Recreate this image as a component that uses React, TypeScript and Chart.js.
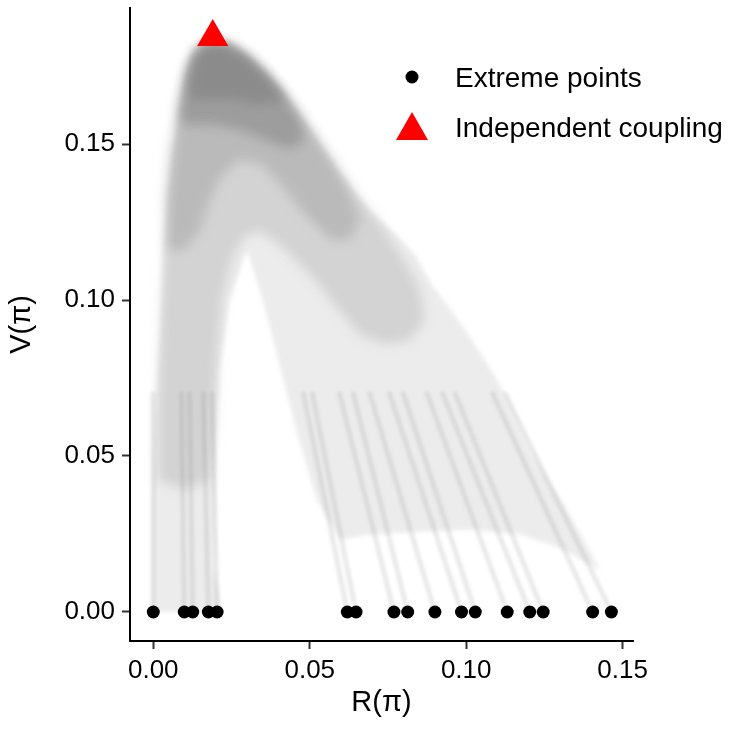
import React, { useEffect, useRef } from "react";
import { Chart, registerables } from "chart.js";

Chart.register(...registerables);

const FONT = '"Liberation Sans", Arial, Helvetica, sans-serif';

// axis ticks
const xTicks = [0, 0.05, 0.1, 0.15];
const yTicks = [0, 0.05, 0.1, 0.15];

// legend labels
const legendLabels = ["Extreme points", "Independent coupling"];

// extreme points (R, V)
const extremeR = [0.0, 0.0099, 0.0126, 0.0176, 0.0204, 0.062, 0.0648, 0.0769, 0.0813, 0.09, 0.0985, 0.1029, 0.1131, 0.1203, 0.1246, 0.1404, 0.1464];
const extremeV = [0, 0, 0, 0, 0, 0, 0, 0, 0, 0, 0, 0, 0, 0, 0, 0, 0];

// independent coupling
const indepR = [0.019];
const indepV = [0.1843];

// sampled-coupling cloud, outer envelope (light density)
const cloudOuterR = [-0.0003, -0.0003, -0.0002, 0.0005, 0.0021, 0.0031, 0.0047, 0.0076, 0.0101, 0.0124, 0.0159, 0.0197, 0.0239, 0.0283, 0.0325, 0.0373, 0.0437, 0.0501, 0.0565, 0.0629, 0.0699, 0.0779, 0.0836, 0.089, 0.0989, 0.1044, 0.1098, 0.1149, 0.1203, 0.1267, 0.1315, 0.1385, 0.1427, 0.1395, 0.1299, 0.1171, 0.1012, 0.0852, 0.0692, 0.0597, 0.0523, 0.0459, 0.0405, 0.035, 0.0299, 0.0245, 0.0213, 0.0197, 0.0194, 0.0219];
const cloudOuterV = [0.0, 0.0168, 0.036, 0.0584, 0.0905, 0.1152, 0.1363, 0.1578, 0.1722, 0.1796, 0.1834, 0.1844, 0.1831, 0.1802, 0.1764, 0.1716, 0.1642, 0.1552, 0.1456, 0.1366, 0.1283, 0.1206, 0.1145, 0.1049, 0.0914, 0.0831, 0.0745, 0.0639, 0.052, 0.0414, 0.0338, 0.0216, 0.0136, 0.0152, 0.0206, 0.0248, 0.0264, 0.0257, 0.0248, 0.0232, 0.036, 0.0575, 0.0786, 0.1001, 0.1161, 0.1001, 0.0786, 0.0466, 0.0145, 0.0];

// medium density region
const cloudMidR = [0.0012, 0.0015, 0.0025, 0.0037, 0.006, 0.0085, 0.0111, 0.014, 0.0181, 0.0239, 0.0293, 0.0357, 0.0437, 0.0517, 0.0596, 0.0676, 0.075, 0.0804, 0.0852, 0.0868, 0.082, 0.074, 0.066, 0.058, 0.0501, 0.0421, 0.0347, 0.0293, 0.0251, 0.0219, 0.0204, 0.0194, 0.0181, 0.0101];
const cloudMidV = [0.0424, 0.068, 0.0937, 0.1193, 0.1418, 0.161, 0.1738, 0.1802, 0.1828, 0.1821, 0.1789, 0.1732, 0.1642, 0.153, 0.1418, 0.1305, 0.1209, 0.1123, 0.1033, 0.0937, 0.0873, 0.0857, 0.0889, 0.0985, 0.1081, 0.1161, 0.1219, 0.1209, 0.1129, 0.1001, 0.0809, 0.0584, 0.0424, 0.0392];

// higher density region
const cloudHighR = [0.0037, 0.0053, 0.0079, 0.0104, 0.0136, 0.0181, 0.0239, 0.0293, 0.0357, 0.043, 0.0501, 0.0565, 0.0622, 0.0661, 0.0629, 0.0565, 0.0485, 0.0421, 0.0347, 0.0277, 0.0219, 0.0181, 0.0149, 0.0101, 0.0047];
const cloudHighV = [0.1321, 0.1482, 0.1626, 0.1738, 0.1802, 0.1828, 0.1821, 0.1789, 0.1732, 0.1648, 0.1552, 0.1456, 0.1354, 0.1257, 0.1193, 0.1193, 0.1273, 0.1354, 0.1434, 0.145, 0.1402, 0.1321, 0.1225, 0.1161, 0.1161];

// dense core near the independent coupling
const cloudCoreR = [0.0085, 0.0104, 0.0136, 0.0181, 0.0239, 0.0293, 0.0357, 0.0421, 0.0469, 0.0485, 0.0437, 0.0357, 0.0277, 0.0197, 0.0133, 0.0092];
const cloudCoreV = [0.161, 0.1722, 0.1796, 0.1825, 0.1818, 0.1786, 0.1729, 0.1652, 0.1578, 0.1514, 0.1482, 0.1514, 0.1546, 0.1562, 0.1562, 0.1562];

const cloudPeakR = [0.0111, 0.0124, 0.0149, 0.0188, 0.0239, 0.0293, 0.0348, 0.0398, 0.0421, 0.0341, 0.0261, 0.0181, 0.0124];
const cloudPeakV = [0.1674, 0.177, 0.1809, 0.1825, 0.1818, 0.1786, 0.1738, 0.1681, 0.1642, 0.1626, 0.1642, 0.1642, 0.1642];

// streaks rising from each extreme point (upper end of each visible streak)
const streakTopR = [0.0, 0.009, 0.0116, 0.016, 0.0188, 0.048, 0.0508, 0.0595, 0.0639, 0.0692, 0.0755, 0.0799, 0.0875, 0.0925, 0.0965, 0.1085, 0.1125];
const streakTopV = [0.07, 0.07, 0.07, 0.07, 0.07, 0.07, 0.07, 0.07, 0.07, 0.07, 0.07, 0.07, 0.07, 0.07, 0.07, 0.07, 0.07];

const toPts = (rs: number[], vs: number[]) => rs.map((r, i) => ({ x: r, y: vs[i] }));

function polygon(rs: number[], vs: number[], alpha: number, order: number) {
  return {
    type: "line" as const,
    data: toPts(rs, vs),
    fill: "shape",
    backgroundColor: `rgba(128,128,128,${alpha})`,
    borderColor: "rgba(0,0,0,0)",
    borderWidth: 0,
    pointRadius: 0,
    tension: 0,
    order,
  };
}

// soften the density layers (a cloud of tiny translucent points) with blur
const softenPlugin = {
  id: "soften",
  beforeDatasetsDraw(chart: any) {
    chart.ctx.filter = "blur(2px)";
  },
  afterDatasetDraw(chart: any, args: any) {
    if (args.index === 7) chart.ctx.filter = "blur(6px)";
    if (args.index === 3) chart.ctx.filter = "blur(1.5px)";
    if (args.index === 2) chart.ctx.filter = "none";
  },
  afterDatasetsDraw(chart: any) {
    chart.ctx.filter = "none";
  },
};

const legendPlugin = {
  id: "customLegend",
  afterDraw(chart: any) {
    const ctx = chart.ctx as CanvasRenderingContext2D;
    ctx.save();
    ctx.filter = "none";
    ctx.fillStyle = "#000";
    ctx.beginPath();
    ctx.arc(412, 77, 6.5, 0, Math.PI * 2);
    ctx.fill();
    ctx.fillStyle = "#ff0000";
    ctx.beginPath();
    ctx.moveTo(412, 112);
    ctx.lineTo(428, 140);
    ctx.lineTo(396, 140);
    ctx.closePath();
    ctx.fill();
    ctx.fillStyle = "#000";
    ctx.font = `28px ${FONT}`;
    ctx.textBaseline = "alphabetic";
    ctx.textAlign = "left";
    ctx.fillText(legendLabels[0], 455, 87);
    ctx.fillText(legendLabels[1], 455, 137);
    ctx.restore();
  },
};

export default function App() {
  const ref = useRef<HTMLCanvasElement | null>(null);
  useEffect(() => {
    if (!ref.current) return;
    const streakData: any[] = [];
    extremeR.forEach((r, i) => {
      streakData.push({ x: r, y: extremeV[i] });
      streakData.push({ x: streakTopR[i], y: streakTopV[i] });
      streakData.push({ x: null, y: null });
    });
    const chart = new Chart(ref.current, {
      type: "scatter",
      data: {
        datasets: [
          {
            type: "scatter",
            label: legendLabels[1],
            data: toPts(indepR, indepV),
            pointStyle: "triangle",
            pointRadius: 18,
            backgroundColor: "#ff0000",
            borderWidth: 0,
            order: 0,
            clip: false,
          },
          {
            type: "scatter",
            label: legendLabels[0],
            data: toPts(extremeR, extremeV),
            pointRadius: 6.5,
            backgroundColor: "#000",
            borderWidth: 0,
            order: 1,
          },
          {
            type: "line",
            data: streakData,
            borderColor: "rgba(128,128,128,0.17)",
            borderWidth: 5,
            borderCapStyle: "round",
            pointRadius: 0,
            fill: false,
            spanGaps: false,
            order: 2,
          },
          polygon(cloudPeakR, cloudPeakV, 0.6, 3),
          polygon(cloudCoreR, cloudCoreV, 0.5, 4),
          polygon(cloudHighR, cloudHighV, 0.3, 5),
          polygon(cloudMidR, cloudMidV, 0.24, 6),
          polygon(cloudOuterR, cloudOuterV, 0.15, 7),
        ] as any,
      },
      options: {
        responsive: false,
        animation: false,
        events: [],
        layout: { autoPadding: false, padding: { top: 8, right: 102, left: 0, bottom: 0 } },
        plugins: { legend: { display: false }, tooltip: { enabled: false } },
        scales: {
          x: {
            type: "linear",
            min: -0.00744,
            max: 0.1533,
            afterBuildTicks: (s: any) => {
              s.ticks = xTicks.map((v) => ({ value: v }));
            },
            afterFit: (s: any) => {
              s.height = 89;
            },
            ticks: {
              callback: (v: any) => Number(v).toFixed(2),
              font: { family: FONT, size: 26 },
              color: "#000",
              padding: 6,
              maxRotation: 0,
              autoSkip: false,
            },
            grid: { display: true, drawOnChartArea: false, drawTicks: true, tickLength: 8, tickWidth: 2, tickColor: "#333" },
            border: { display: true, color: "#000", width: 2 },
            title: { display: true, text: "R(π)", font: { family: FONT, size: 29 }, color: "#000", padding: { top: 0, bottom: 10 } },
          },
          y: {
            type: "linear",
            min: -0.0093,
            max: 0.1936,
            afterBuildTicks: (s: any) => {
              s.ticks = yTicks.map((v) => ({ value: v }));
            },
            afterFit: (s: any) => {
              s.width = 130;
            },
            ticks: {
              callback: (v: any) => Number(v).toFixed(2),
              font: { family: FONT, size: 26, lineHeight: 0.03 },
              color: "#000",
              padding: 7,
              autoSkip: false,
            },
            grid: { display: true, drawOnChartArea: false, drawTicks: true, tickLength: 8, tickWidth: 2, tickColor: "#333" },
            border: { display: true, color: "#000", width: 2 },
            title: { display: true, text: "V(π)", font: { family: FONT, size: 29 }, color: "#000", padding: { top: 5, bottom: 0 } },
          },
        },
      } as any,
      plugins: [softenPlugin, legendPlugin],
    });
    return () => chart.destroy();
  }, []);
  return (
    <div style={{ position: "fixed", left: 0, top: 0, width: 735, height: 730, background: "#fff" }}>
      <canvas ref={ref} width={735} height={730} style={{ display: "block" }} />
    </div>
  );
}
